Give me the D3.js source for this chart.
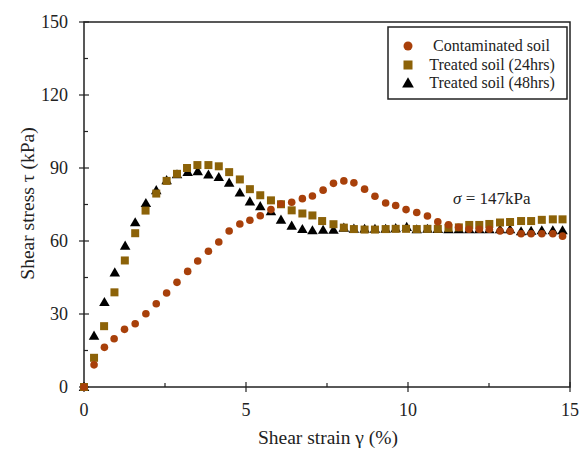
<!DOCTYPE html>
<html>
<head>
<meta charset="utf-8">
<script src="https://cdn.jsdelivr.net/npm/d3@7"></script>
<style>
  body { margin: 0; background: #fff; }
  text { font-family: 'Liberation Serif', 'Times New Roman', serif; fill: #222; }
</style>
</head>
<body>
<script>
// Contaminated soil
const contamStrain = [0, 0.31, 0.63, 0.93, 1.25, 1.58, 1.91, 2.23, 2.55, 2.87, 3.2, 3.51, 3.84, 4.16, 4.48, 4.81, 5.12, 5.44, 5.77, 6.08, 6.41, 6.74, 7.05, 7.38, 7.7, 8.02, 8.33, 8.66, 8.98, 9.31, 9.62, 9.94, 10.27, 10.6, 10.92, 11.25, 11.56, 11.88, 12.2, 12.51, 12.84, 13.15, 13.49, 13.8, 14.13, 14.47, 14.77];
const contamStress = [0, 9.1, 16.3, 19.8, 23.7, 26, 30.1, 34.2, 38.6, 43, 47.5, 51.8, 55.8, 59.6, 64.1, 67, 68.5, 70.4, 72.9, 75.2, 75.9, 77.4, 78.5, 80.9, 83.7, 84.7, 83.9, 81.3, 78.4, 75.6, 74.6, 72.9, 71.7, 70.3, 67.9, 66.7, 65.6, 64.8, 64.8, 64.8, 64.1, 64, 63, 63, 63, 63, 62];

// Treated soil (24hrs)
const t24Strain = [0, 0.31, 0.62, 0.94, 1.26, 1.58, 1.9, 2.23, 2.55, 2.87, 3.18, 3.5, 3.84, 4.16, 4.48, 4.81, 5.12, 5.44, 5.77, 6.08, 6.41, 6.74, 7.05, 7.35, 7.7, 8.02, 8.33, 8.66, 8.98, 9.31, 9.62, 9.94, 10.27, 10.6, 10.92, 11.25, 11.57, 11.89, 12.2, 12.51, 12.84, 13.15, 13.49, 13.8, 14.13, 14.47, 14.77];
const t24Stress = [0, 12, 25, 38.9, 52, 63.2, 72.5, 79.5, 84.7, 87.6, 90, 91.2, 91.2, 90.7, 88.3, 85.3, 81.3, 78.8, 76.7, 75.1, 72.6, 71.3, 70.5, 68.2, 66.9, 65.5, 64.9, 64.7, 64.7, 64.9, 65, 65, 64.9, 65, 65, 65.4, 65.6, 66.6, 66.6, 67, 67.6, 67.8, 68.2, 68.2, 68.7, 68.9, 68.9];

// Treated soil (48hrs)
const t48Strain = [0, 0.31, 0.63, 0.95, 1.27, 1.58, 1.91, 2.23, 2.55, 2.87, 3.2, 3.51, 3.84, 4.16, 4.48, 4.81, 5.12, 5.44, 5.77, 6.08, 6.41, 6.74, 7.05, 7.38, 7.7, 8.02, 8.33, 8.66, 8.98, 9.31, 9.62, 9.96, 10.27, 10.6, 10.92, 11.25, 11.57, 11.89, 12.2, 12.51, 12.84, 13.15, 13.49, 13.8, 14.13, 14.47, 14.77];
const t48Stress = [0, 21.1, 34.9, 47.1, 58.1, 67.7, 75.6, 80.9, 85, 87.4, 88.4, 88.7, 87.3, 86.3, 84, 79.9, 76.3, 74.3, 72.2, 68.8, 66.3, 64.9, 64.4, 64.6, 64.6, 65.5, 65.1, 65, 65, 65, 65.3, 65.8, 64.8, 65, 64.9, 64.8, 64.8, 64.8, 64.8, 64.8, 64.8, 64.8, 64, 64.2, 64.4, 64.4, 64.4];

const seriesNames = ['Contaminated soil', 'Treated soil (24hrs)', 'Treated soil (48hrs)'];
const xTicks = [0, 5, 10, 15];
const yTicks = [0, 30, 60, 90, 120, 150];

const width = 579, height = 449;
const margin = {top: 22, right: 9, bottom: 62, left: 84};

const svg = d3.select('body').append('svg')
  .attr('width', width)
  .attr('height', height);

const x = d3.scaleLinear().domain([0, 15]).range([margin.left, width - margin.right]);
const y = d3.scaleLinear().domain([0, 150]).range([height - margin.bottom, margin.top]);

// frame
svg.append('rect')
  .attr('x', x(0)).attr('y', y(150))
  .attr('width', x(15) - x(0)).attr('height', y(0) - y(150))
  .attr('fill', 'none').attr('stroke', '#222').attr('stroke-width', 1.5);

// ticks: major cross the axis, minor inside only
const tickG = svg.append('g').attr('stroke', '#222').attr('stroke-width', 1.2);
xTicks.forEach((t) => {
  tickG.append('line').attr('x1', x(t)).attr('x2', x(t)).attr('y1', y(0) - 5).attr('y2', y(0) + 5);
});
d3.range(2.5, 15, 5).forEach((t) => {
  tickG.append('line').attr('x1', x(t)).attr('x2', x(t)).attr('y1', y(0) - 4).attr('y2', y(0));
});
yTicks.forEach((t) => {
  tickG.append('line').attr('x1', x(0) - 5).attr('x2', x(0) + 5).attr('y1', y(t)).attr('y2', y(t));
});
d3.range(15, 150, 30).forEach((t) => {
  tickG.append('line').attr('x1', x(0)).attr('x2', x(0) + 4).attr('y1', y(t)).attr('y2', y(t));
});

svg.append('g').selectAll('text').data(xTicks).join('text')
  .attr('x', (d) => x(d)).attr('y', y(0) + 29)
  .attr('text-anchor', 'middle').style('font-size', '18px')
  .text((d) => d);

svg.append('g').selectAll('text').data(yTicks).join('text')
  .attr('x', x(0) - 16).attr('y', (d) => y(d) + 6)
  .attr('text-anchor', 'end').style('font-size', '18px')
  .text((d) => d);

svg.append('text')
  .attr('x', (x(0) + x(15)) / 2 + 1).attr('y', 444)
  .attr('text-anchor', 'middle').style('font-size', '19.5px')
  .text('Shear strain γ (%)');

svg.append('text')
  .attr('transform', `translate(34,${(y(0) + y(150)) / 2 - 1}) rotate(-90)`)
  .attr('text-anchor', 'middle').style('font-size', '19.5px')
  .text('Shear stress τ (kPa)');

// markers
const colors = ['#a8400a', '#8c6208', '#000'];
const tri = d3.symbol().type(d3.symbolTriangle).size(48);

const zip = (xs, ys) => xs.map((v, i) => [v, ys[i]]);

svg.append('g').selectAll('path').data(zip(t48Strain, t48Stress)).join('path')
  .attr('d', tri)
  .attr('transform', (d) => `translate(${x(d[0])},${y(d[1]) + 1})`)
  .attr('fill', colors[2]);

svg.append('g').selectAll('rect').data(zip(t24Strain, t24Stress)).join('rect')
  .attr('x', (d) => x(d[0]) - 4).attr('y', (d) => y(d[1]) - 4)
  .attr('width', 8).attr('height', 8)
  .attr('fill', colors[1]);

svg.append('g').selectAll('circle').data(zip(contamStrain, contamStress)).join('circle')
  .attr('cx', (d) => x(d[0])).attr('cy', (d) => y(d[1]))
  .attr('r', 3.8)
  .attr('fill', colors[0]);

// annotation
const ann = svg.append('text')
  .attr('x', 453).attr('y', 204)
  .style('font-size', '17px');
ann.append('tspan').style('font-style', 'italic').text('σ');
ann.append('tspan').text(' = 147kPa');

// legend
const legend = svg.append('g');
legend.append('rect')
  .attr('x', 388).attr('y', 27).attr('width', 179).attr('height', 72)
  .attr('fill', '#fff').attr('stroke', '#222').attr('stroke-width', 1.5);

const rowY = [46, 65, 83];
legend.append('circle').attr('cx', 408).attr('cy', rowY[0]).attr('r', 4.5).attr('fill', colors[0]);
legend.append('rect').attr('x', 403.5).attr('y', rowY[1] - 4.5).attr('width', 9).attr('height', 9).attr('fill', colors[1]);
legend.append('path').attr('d', d3.symbol().type(d3.symbolTriangle).size(60))
  .attr('transform', `translate(408,${rowY[2] + 1})`).attr('fill', colors[2]);

legend.selectAll('text.lbl').data(seriesNames).join('text')
  .attr('class', 'lbl')
  .attr('x', (d, i) => i === 0 ? 491.5 : 492)
  .attr('y', (d, i) => rowY[i] + 5)
  .attr('text-anchor', 'middle')
  .style('font-size', '16px')
  .text((d) => d);
</script>
</body>
</html>
